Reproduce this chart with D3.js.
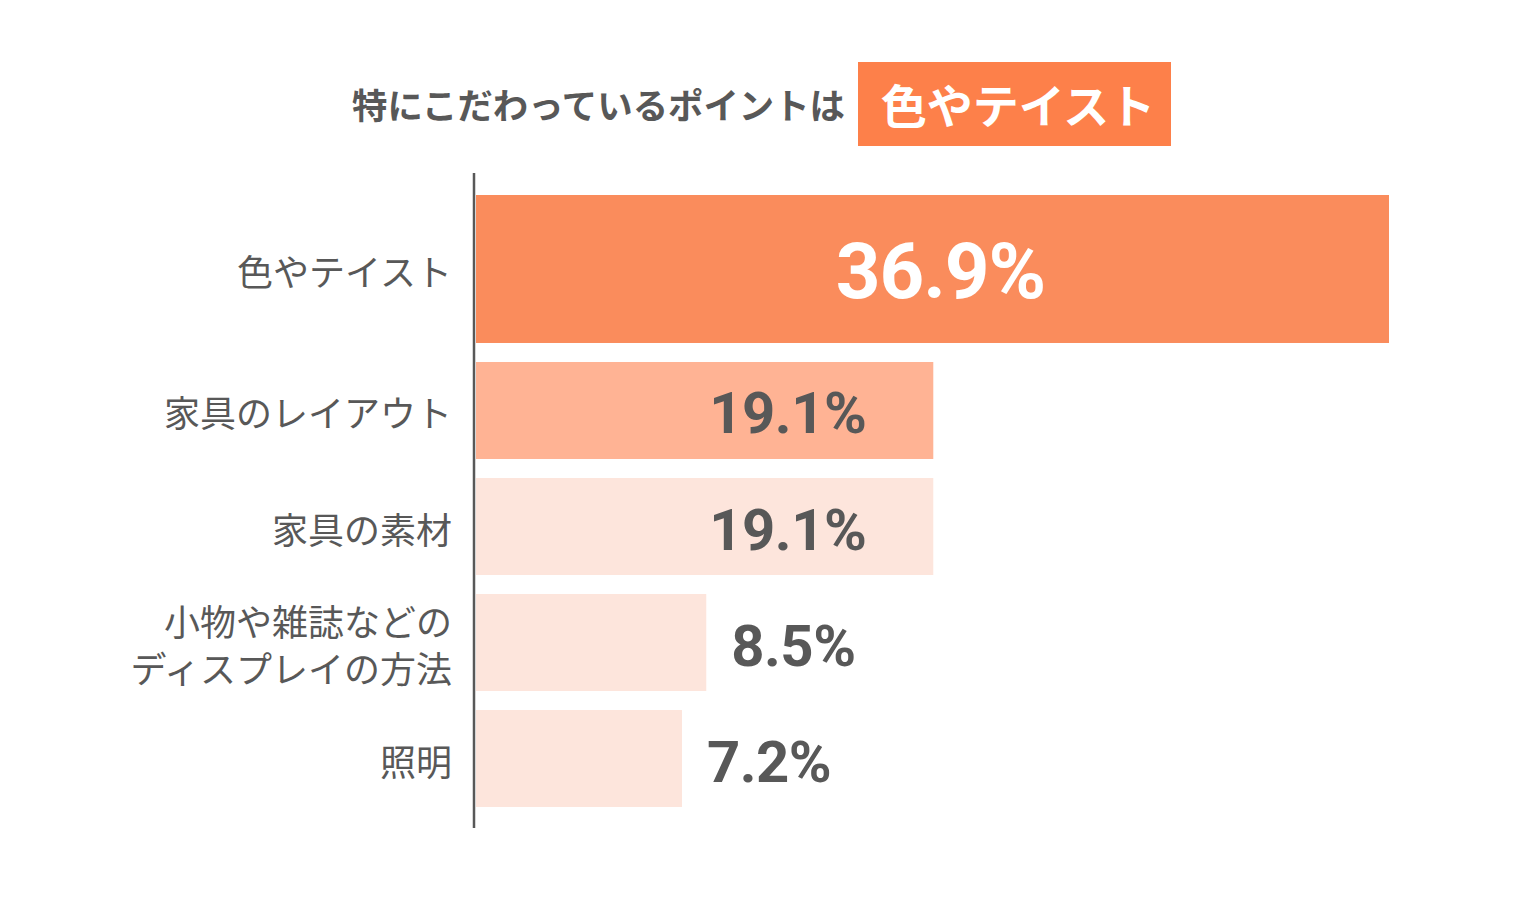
<!DOCTYPE html>
<html>
<head>
<meta charset="utf-8">
<script src="https://cdn.jsdelivr.net/npm/d3@7"></script>
<style>
  body { margin: 0; background: #fff; }
</style>
</head>
<body>
<div id="chart"></div>
<script>
const WIDTH = 1520;
const HEIGHT = 900;

// data
const categories = ["色やテイスト", "家具のレイアウト", "家具の素材", "小物や雑誌などの\nディスプレイの方法", "照明"];
const values = [36.9, 19.1, 19.1, 8.5, 7.2];
const titleText = "特にこだわっているポイントは";
const titleHighlight = "色やテイスト";

const BAR_COLORS = ["#fa8c5c", "#ffb394", "#fde5dc", "#fde5dc", "#fde5dc"];
const DARK = "#585858";
const JP = "'Noto Sans CJK JP', 'Noto Sans', sans-serif";

var svg = d3.select("#chart").append("svg")
  .attr("width", WIDTH)
  .attr("height", HEIGHT);

// the source picture is not drawn to a plain linear scale; a fitted pow scale follows it
const X0 = 476;
var x = d3.scalePow()
  .exponent(1.25)
  .domain([-6.94, 36.9])
  .range([X0, 1389]);

var y = d3.scaleBand()
  .domain(categories)
  .range([246, 807])
  .paddingInner(0.164)
  .paddingOuter(0);

const FIRST_EXTRA = 51; // first bar is taller, extends upward

var rows = categories.map((c, i) => ({ cat: c, value: values[i], i: i }));

// title
svg.append("text")
  .attr("x", 845)
  .attr("y", 103)
  .attr("text-anchor", "end")
  .attr("dominant-baseline", "central")
  .style("font-family", JP)
  .attr("font-size", 35.4)
  .attr("font-weight", 700)
  .attr("fill", DARK)
  .text(titleText);

svg.append("rect")
  .attr("x", 858).attr("y", 62)
  .attr("width", 313).attr("height", 84)
  .attr("fill", "#fd804a");

svg.append("text")
  .attr("x", 1018)
  .attr("y", 103)
  .attr("text-anchor", "middle")
  .attr("dominant-baseline", "central")
  .style("font-family", JP)
  .attr("font-size", 46)
  .attr("font-weight", 700)
  .attr("fill", "#fff")
  .text(titleHighlight);

// bars
svg.append("g").selectAll("rect")
  .data(rows)
  .join("rect")
    .attr("x", X0)
    .attr("y", d => d.i === 0 ? y(d.cat) - FIRST_EXTRA : y(d.cat))
    .attr("width", d => x(d.value) - X0)
    .attr("height", d => d.i === 0 ? y.bandwidth() + FIRST_EXTRA : y.bandwidth())
    .attr("fill", (d, i) => BAR_COLORS[i]);

// axis line
svg.append("line")
  .attr("x1", 474).attr("x2", 474)
  .attr("y1", 173).attr("y2", 828)
  .attr("stroke", DARK)
  .attr("stroke-width", 2.5);

function barCenter(d) {
  return d.i === 0 ? y(d.cat) - FIRST_EXTRA / 2 + y.bandwidth() / 2 : y(d.cat) + y.bandwidth() / 2;
}

// category labels
var labels = svg.append("g").selectAll("text")
  .data(rows)
  .join("text")
    .attr("text-anchor", "end")
    .style("font-family", JP)
    .attr("font-size", 36)
    .attr("fill", DARK);

labels.each(function(d) {
  var lines = d.cat.split("\n");
  var t = d3.select(this);
  lines.forEach((ln, k) => {
    t.append("tspan")
      .attr("x", 452)
      .attr("y", barCenter(d) + 1 + (k - (lines.length - 1) / 2) * 47)
      .attr("dominant-baseline", "central")
      .text(ln);
  });
});

// value labels
svg.append("g").selectAll("text")
  .data(rows)
  .join("text")
    .style("font-family", "Roboto, sans-serif")
    .attr("font-weight", 700)
    .attr("dominant-baseline", "central")
    .attr("font-size", d => d.i === 0 ? 78 : 58)
    .attr("letter-spacing", d => d.i === 0 ? -1 : -0.5)
    .attr("fill", d => d.i === 0 ? "#fff" : DARK)
    .attr("text-anchor", d => d.i === 0 ? "middle" : (d.value > 15 ? "end" : "start"))
    .attr("x", d => {
      if (d.i === 0) return (X0 + x(d.value)) / 2 + 8;
      if (d.value > 15) return x(d.value) - 67;
      return x(d.value) + 25;
    })
    .attr("y", d => barCenter(d) + 3)
    .text(d => d.value.toFixed(1) + "%");
</script>
</body>
</html>
